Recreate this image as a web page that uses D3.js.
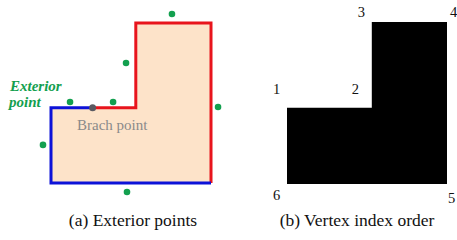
<!DOCTYPE html>
<html><head><meta charset="utf-8">
<script src="https://cdn.jsdelivr.net/npm/d3@7"></script>
<style>body{margin:0;background:#fff}svg{display:block}
text{font-family:"Liberation Serif","Times New Roman","DejaVu Serif",serif;}</style>
</head><body>
<svg id="c" width="457" height="240"></svg>
<script>
// L-shaped polygon vertices (data units), in index order 1..6
const vertexLabels = ["1","2","3","4","5","6"];
const vertexX = [0, 5.3, 5.3, 10, 10, 0];
const vertexY = [4.7, 4.7, 10, 10, 0, 0];
// branch point on edge 1-2
const branchX = [2.6];
const branchY = [4.7];
// exterior points
const extX = [7.56, 4.69, 1.19, 3.88, 10.44, -0.5, 4.75];
const extY = [10.56, 7.5, 5.06, 5.06, 4.75, 2.38, -0.56];
const captions = ["(a) Exterior points", "(b) Vertex index order"];
const extLabelLines = ["Exterior", "point"];

const svg = d3.select("#c");

// Panel (a)
const xa = d3.scaleLinear().domain([0,10]).range([51,211]);
const ya = d3.scaleLinear().domain([0,10]).range([183,23]);
const verts = vertexX.map((x,i)=>[x, vertexY[i]]);
const lineA = d3.line().x(d=>xa(d[0])).y(d=>ya(d[1]));
svg.append("path").attr("d", lineA(verts)+"Z").attr("fill","#fde3c9").attr("stroke","none");
const b = [branchX[0], branchY[0]];
const bluePts = [b, verts[0], verts[5], verts[4]];
const redPts = [b, verts[1], verts[2], verts[3], verts[4]];
svg.append("path").attr("d", lineA(redPts)).attr("fill","none").attr("stroke","#e8141c").attr("stroke-width",3).attr("stroke-linejoin","miter");
svg.append("path").attr("d", lineA(bluePts)).attr("fill","none").attr("stroke","#0d12d8").attr("stroke-width",3).attr("stroke-linejoin","miter");
svg.selectAll(".ext").data(extX.map((x,i)=>[x,extY[i]])).join("circle")
  .attr("cx",d=>xa(d[0])).attr("cy",d=>ya(d[1])).attr("r",3.3).attr("fill","#13a04f");
svg.append("circle").attr("cx",xa(b[0])).attr("cy",ya(b[1])).attr("r",3.5).attr("fill","#5a5a62");
svg.append("text").attr("x",77).attr("y",130).attr("font-size",15)
  .attr("fill","#8a8a8a").text("Brach point");
svg.selectAll(".extl").data(extLabelLines).join("text")
  .attr("x",(d,i)=>i===0?10:9).attr("y",(d,i)=>i===0?91:107)
  .attr("font-size",15).attr("font-weight","bold").attr("font-style","italic")
  .attr("fill","#13a04f").text(d=>d);

// Panel (b)
const xb = d3.scaleLinear().domain([0,10]).range([287,447]);
const yb = d3.scaleLinear().domain([0,10]).range([184,22]);
const lineB = d3.line().x(d=>xb(d[0])).y(d=>yb(d[1]));
svg.append("path").attr("d", lineB(verts)+"Z").attr("fill","#000");
const labelOff = [[-14,-14],[-20,-14],[-14,-5],[3,-5],[1,19],[-14,16]];
svg.selectAll(".vl").data(vertexLabels).join("text")
  .attr("x",(d,i)=>xb(vertexX[i])+labelOff[i][0]).attr("y",(d,i)=>yb(vertexY[i])+labelOff[i][1])
  .attr("font-size",14.5).attr("fill","#111").text(d=>d);

// captions
svg.selectAll(".cap").data(captions).join("text")
  .attr("x",(d,i)=>i===0?133:357).attr("y",226).attr("text-anchor","middle")
  .attr("font-size",17.5).attr("fill","#111").text(d=>d);
</script>
</body></html>
